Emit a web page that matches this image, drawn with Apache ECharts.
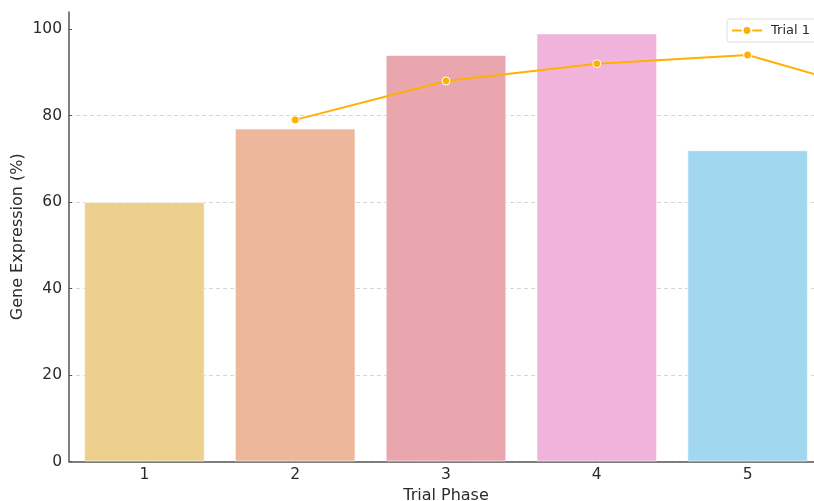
<!DOCTYPE html>
<html>
<head>
<meta charset="utf-8">
<script src="https://cdn.jsdelivr.net/npm/echarts@6/dist/echarts.min.js"></script>
<style>
  html, body { margin: 0; padding: 0; background: #fff; }
  #chart { width: 814px; height: 501px; }
</style>
</head>
<body>
<div id="chart"></div>
<script>
// Trial phases and mean expression per phase
const phases = ['1', '2', '3', '4', '5'];
const expression = [60, 77, 94, 99, 72];
const barColors = ['#EDD08E', '#ECB79B', '#E9A6AE', '#F0B4DC', '#A2D8EF'];

// Trial 1 measurements, plotted at phase positions 2..6
const trialPositions = [2, 3, 4, 5, 6];
const trial1 = [79, 88, 92, 94, 84];

const yTicks = [0, 20, 40, 60, 80, 100];

const font = 'DejaVu Sans';
const textColor = '#2b2b2b';
const axisColor = '#555555';

const chart = echarts.init(document.getElementById('chart'), null, { renderer: 'canvas' });

chart.setOption({
  animation: false,
  backgroundColor: '#ffffff',
  grid: { left: 69, right: -9, top: 12, bottom: 39.5, containLabel: false, outerBoundsMode: 'none' },
  legend: {
    data: ['Trial 1'],
    left: 727,
    top: 19,
    itemWidth: 30,
    itemHeight: 11,
    itemGap: 6,
    padding: [5, 8, 5, 4],
    borderColor: '#dddddd',
    borderWidth: 1,
    borderRadius: 3,
    backgroundColor: 'rgba(255,255,255,0.8)',
    textStyle: { fontFamily: font, fontSize: 13, color: textColor, padding: [0, 0, 0, 4] }
  },
  xAxis: [
    {
      type: 'category',
      data: phases,
      boundaryGap: true,
      name: 'Trial Phase',
      nameLocation: 'middle',
      nameGap: 26,
      nameTextStyle: { fontFamily: font, fontSize: 16, color: textColor },
      axisLine: { lineStyle: { color: axisColor, width: 1.5 } },
      axisTick: { show: true, alignWithLabel: true, inside: true, length: 4, lineStyle: { color: axisColor } },
      axisLabel: { fontFamily: font, fontSize: 15.5, color: textColor, margin: 5 },
      splitLine: { show: false }
    },
    {
      type: 'value',
      min: 0.5,
      max: 5.5,
      show: false
    }
  ],
  yAxis: {
    type: 'value',
    min: 0,
    max: 103.95,
    name: 'Gene Expression (%)',
    nameLocation: 'middle',
    nameGap: 43,
    nameMoveOverlap: false,
    nameTextStyle: { fontFamily: font, fontSize: 16, color: textColor },
    axisLine: { show: true, lineStyle: { color: axisColor, width: 1.5 } },
    axisTick: { show: true, inside: true, length: 3, customValues: yTicks, lineStyle: { color: axisColor } },
    axisLabel: { fontFamily: font, fontSize: 15.5, color: textColor, margin: 7, customValues: yTicks },
    splitLine: {
      show: true,
      showMaxLine: false,
      customValues: yTicks,
      lineStyle: { color: '#cccccc', type: [4, 3], width: 0.8 }
    }
  },
  series: [
    {
      type: 'bar',
      name: 'Expression',
      data: expression.map((v, i) => ({ value: v, itemStyle: { color: barColors[i] } })),
      barWidth: '80%',
      itemStyle: { borderColor: 'rgba(255,255,255,0.6)', borderWidth: 1 }
    },
    {
      type: 'line',
      name: 'Trial 1',
      xAxisIndex: 1,
      data: trialPositions.map((x, i) => [x, trial1[i]]),
      clip: true,
      symbol: 'circle',
      symbolSize: 8,
      z: 5,
      lineStyle: { color: '#FFB000', width: 2 },
      itemStyle: { color: '#FFB000', borderColor: '#ffffff', borderWidth: 1 }
    }
  ]
});
</script>
</body>
</html>
